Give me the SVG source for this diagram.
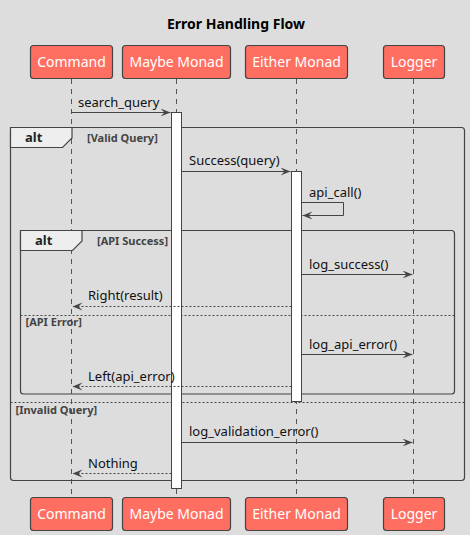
<svg xmlns="http://www.w3.org/2000/svg" width="470" height="535" viewBox="0 0 470 535">
<defs>
<style>
.bg{fill:#DDDDDD}
.box{fill:#FF6F61;stroke:#444444;stroke-width:1.2}
.boxt{font-family:"Noto Sans",sans-serif;font-size:14px;fill:#FFFFFF;text-anchor:middle}
.life{stroke:#555555;stroke-width:1;stroke-dasharray:5,5;fill:none}
.act{fill:#FFFFFF;stroke:#444444;stroke-width:1}
.msg{stroke:#444444;stroke-width:1;fill:none}
.ret{stroke:#444444;stroke-width:1;fill:none;stroke-dasharray:2,2}
.mt{font-family:"Noto Sans",sans-serif;font-size:13px;fill:#111111}
.frame{fill:none;stroke:#444444;stroke-width:1.2}
.tab{fill:#EEEEEE;stroke:#444444;stroke-width:1.2}
.tabt{font-family:"Noto Sans",sans-serif;font-size:13px;font-weight:bold;fill:#222222}
.guard{font-family:"Noto Sans",sans-serif;font-size:11px;font-weight:bold;fill:#444444}
.sep{stroke:#444444;stroke-width:1;stroke-dasharray:2,2}
.title{font-family:"Noto Sans",sans-serif;font-size:14px;font-weight:bold;fill:#000000;text-anchor:middle}
</style>
<marker id="ah" markerWidth="12" markerHeight="10" refX="10" refY="4" orient="auto" markerUnits="userSpaceOnUse">
<polygon points="0,0 10,4 0,8 4,4" fill="#444444"/>
</marker>
</defs>
<rect class="bg" x="0" y="0" width="470" height="535"/>
<text class="title" x="236" y="29">Error Handling Flow</text>

<g id="lifelines">
<line class="life" x1="71.5" y1="79" x2="71.5" y2="497"/>
<line class="life" x1="176.5" y1="79" x2="176.5" y2="497"/>
<line class="life" x1="296.5" y1="79" x2="296.5" y2="497"/>
<line class="life" x1="413.5" y1="79" x2="413.5" y2="497"/>
</g>

<g id="frames">
<rect class="frame" x="10.5" y="127.5" width="454" height="353" rx="3"/>
<polygon class="tab" points="10.5,127.5 72,127.5 72,138 62.5,147.5 10.5,147.5"/>
<text class="tabt" x="25" y="142">alt</text>
<text class="guard" x="87" y="142">[Valid Query]</text>
<line class="sep" x1="10.5" y1="402.5" x2="464.5" y2="402.5"/>
<text class="guard" x="15.5" y="413.5">[Invalid Query]</text>

<rect class="frame" x="20.5" y="230.5" width="434" height="163.5" rx="3"/>
<polygon class="tab" points="20.5,230.5 82,230.5 82,241 72.5,250.5 20.5,250.5"/>
<text class="tabt" x="35" y="245">alt</text>
<text class="guard" x="97" y="245">[API Success]</text>
<line class="sep" x1="20.5" y1="315.5" x2="454.5" y2="315.5"/>
<text class="guard" x="25.5" y="326">[API Error]</text>
</g>

<g id="activations">
<rect class="act" x="171.5" y="112.5" width="10" height="376"/>
<rect class="act" x="291.5" y="171.5" width="10" height="230"/>
</g>

<g id="connectors">
<line class="msg" x1="71.5" y1="112.5" x2="170.5" y2="112.5" marker-end="url(#ah)"/>
<text class="mt" x="78" y="107">search_query</text>

<line class="msg" x1="181.5" y1="171.5" x2="290.5" y2="171.5" marker-end="url(#ah)"/>
<text class="mt" x="189" y="165">Success(query)</text>

<polyline class="msg" points="301.5,202.5 343.5,202.5 343.5,215.5 302.5,215.5" marker-end="url(#ah)"/>
<text class="mt" x="309" y="197">api_call()</text>

<line class="msg" x1="301.5" y1="274.5" x2="412.5" y2="274.5" marker-end="url(#ah)"/>
<text class="mt" x="309" y="269">log_success()</text>

<line class="ret" x1="291.5" y1="306.5" x2="72.5" y2="306.5" marker-end="url(#ah)"/>
<text class="mt" x="88" y="300">Right(result)</text>

<line class="msg" x1="301.5" y1="354.5" x2="412.5" y2="354.5" marker-end="url(#ah)"/>
<text class="mt" x="309" y="349">log_api_error()</text>

<line class="ret" x1="291.5" y1="386.5" x2="72.5" y2="386.5" marker-end="url(#ah)"/>
<text class="mt" x="88" y="381">Left(api_error)</text>

<line class="msg" x1="181.5" y1="442.5" x2="412.5" y2="442.5" marker-end="url(#ah)"/>
<text class="mt" x="189" y="436">log_validation_error()</text>

<line class="ret" x1="171.5" y1="473.5" x2="72.5" y2="473.5" marker-end="url(#ah)"/>
<text class="mt" x="88" y="467.5">Nothing</text>
</g>

<g id="p-command">
<rect class="box" x="30.5" y="45.5" width="82" height="33" rx="3"/>
<text class="boxt" x="71.5" y="67">Command</text>
<rect class="box" x="30.5" y="497.5" width="82" height="33" rx="3"/>
<text class="boxt" x="71.5" y="519">Command</text>
</g>
<g id="p-maybe">
<rect class="box" x="122.5" y="45.5" width="108" height="33" rx="3"/>
<text class="boxt" x="176.5" y="67">Maybe Monad</text>
<rect class="box" x="122.5" y="497.5" width="108" height="33" rx="3"/>
<text class="boxt" x="176.5" y="519">Maybe Monad</text>
</g>
<g id="p-either">
<rect class="box" x="245.5" y="45.5" width="102" height="33" rx="3"/>
<text class="boxt" x="296.5" y="67">Either Monad</text>
<rect class="box" x="245.5" y="497.5" width="102" height="33" rx="3"/>
<text class="boxt" x="296.5" y="519">Either Monad</text>
</g>
<g id="p-logger">
<rect class="box" x="383.5" y="45.5" width="61" height="33" rx="3"/>
<text class="boxt" x="414" y="67">Logger</text>
<rect class="box" x="383.5" y="497.5" width="61" height="33" rx="3"/>
<text class="boxt" x="414" y="519">Logger</text>
</g>
</svg>
